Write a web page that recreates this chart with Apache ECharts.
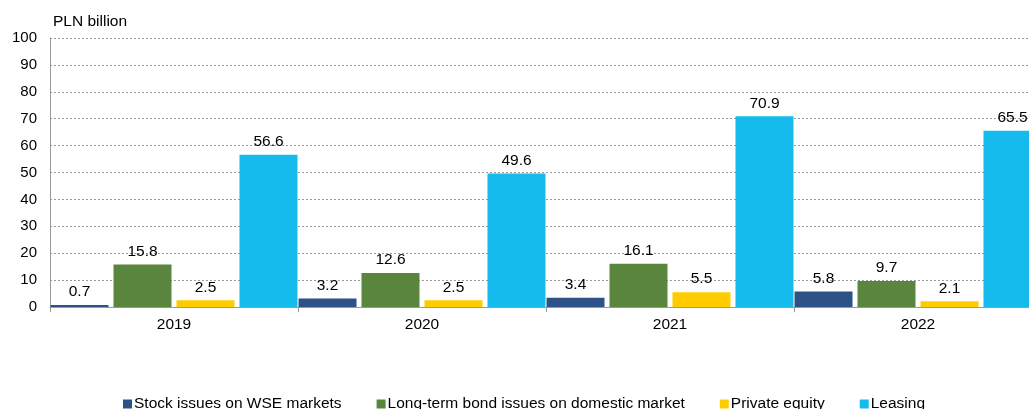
<!DOCTYPE html>
<html>
<head>
<meta charset="utf-8">
<script src="https://cdn.jsdelivr.net/npm/echarts@6/dist/echarts.min.js"></script>
<style>
  html, body { margin: 0; padding: 0; background: #fff; overflow: hidden; }
  /* canvas is a little wider than the window, so the last bar runs off the right edge */
  #chart { width: 1042px; height: 409px; }
</style>
</head>
<body>
<div id="chart"></div>
<script>
// Financing sources, PLN billion
const years = ['2019', '2020', '2021', '2022'];
const stockIssues = [0.7, 3.2, 3.4, 5.8];
const bondIssues = [15.8, 12.6, 16.1, 9.7];
const privateEquity = [2.5, 2.5, 5.5, 2.1];
const leasing = [56.6, 49.6, 70.9, 65.5];
const seriesNames = [
  'Stock issues on WSE markets',
  'Long-term bond issues on domestic market',
  'Private equity',
  'Leasing'
];
const colors = ['#2E5288', '#5A853C', '#FFCC00', '#14BBEC'];

const font = 'Arial, "Liberation Sans", sans-serif';

function makeSeries(name, data, color) {
  return {
    name: name,
    type: 'bar',
    data: data,
    barWidth: 58,
    barGap: '8.6%',
    itemStyle: { color: color },
    label: {
      show: true,
      position: 'top',
      distance: 5,
      color: '#000',
      fontFamily: font,
      fontSize: 15.5,
      formatter: (p) => p.value.toFixed(1)
    },
    emphasis: { disabled: true }
  };
}

const chart = echarts.init(document.getElementById('chart'));
chart.setOption({
  animation: false,
  textStyle: { fontFamily: font },
  color: colors,
  title: {
    text: 'PLN billion',
    left: 48,
    top: 9,
    textStyle: { fontFamily: font, fontSize: 15.5, fontWeight: 'normal', color: '#000' }
  },
  grid: { left: 50, right: 0, top: 38, bottom: 102, containLabel: false },
  legend: {
    data: seriesNames,
    left: 123,
    top: 396,
    padding: 0,
    itemWidth: 9,
    itemHeight: 9,
    itemGap: 35,
    icon: 'rect',
    textStyle: { fontFamily: font, fontSize: 15.5, color: '#000', padding: [0, 0, 0, -3] }
  },
  xAxis: {
    type: 'category',
    data: years,
    axisLine: { show: true, lineStyle: { color: '#999', width: 1 } },
    axisTick: { show: true, length: 5, alignWithLabel: false, lineStyle: { color: '#999' } },
    axisLabel: { color: '#000', fontFamily: font, fontSize: 15.5, margin: 10 }
  },
  yAxis: {
    type: 'value',
    min: 0,
    max: 100,
    interval: 10,
    axisLine: { show: true, lineStyle: { color: '#999', width: 1 } },
    axisTick: { show: false },
    axisLabel: { color: '#000', fontFamily: font, fontSize: 15, margin: 13 },
    splitLine: { show: true, lineStyle: { color: '#999', width: 1, type: [2, 2] } }
  },
  series: [
    makeSeries(seriesNames[0], stockIssues, colors[0]),
    makeSeries(seriesNames[1], bondIssues, colors[1]),
    makeSeries(seriesNames[2], privateEquity, colors[2]),
    makeSeries(seriesNames[3], leasing, colors[3])
  ]
});
</script>
</body>
</html>
